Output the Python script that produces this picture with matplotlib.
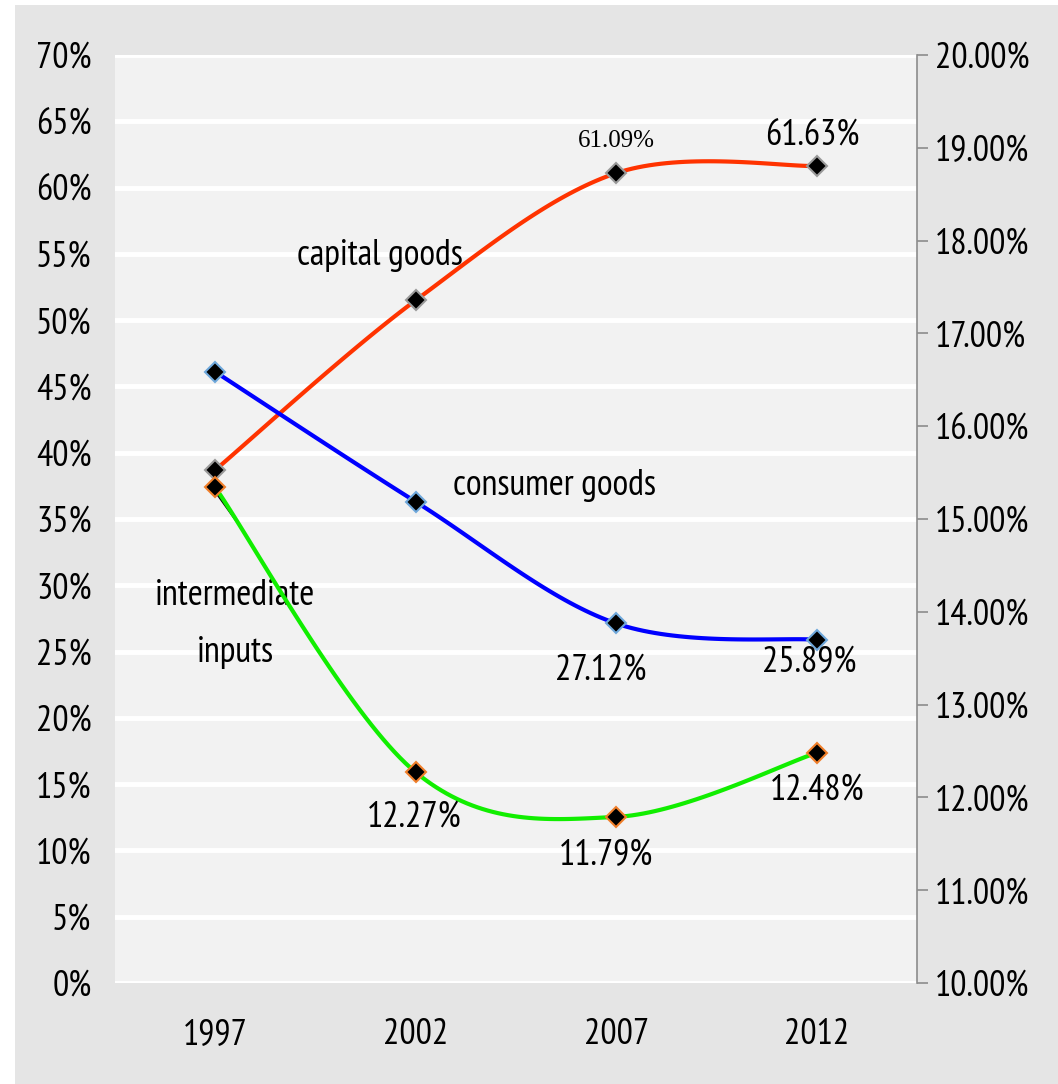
import numpy as np
import matplotlib.pyplot as plt
from matplotlib.patches import Rectangle

# --- Donnees ---
annees = ["1997", "2002", "2007", "2012"]
biens_capital = [38.7, 51.5, 61.09, 61.63]        # axe gauche (%)
biens_conso = [46.1, 36.3, 27.12, 25.89]          # axe gauche (%)
intrants_inter = [15.34, 12.27, 11.79, 12.48]     # axe droit (%)

SANS = ["PT Sans Narrow", "DejaVu Sans"]
SERIF = ["Liberation Serif", "DejaVu Serif"]
plt.rcParams["font.family"] = SANS
TAILLE = 26


def lisse(x, y, n=40):
    """Courbe lissee type Catmull-Rom passant par les points."""
    x = np.asarray(x, float)
    y = np.asarray(y, float)
    px = np.concatenate([[x[0]], x, [x[-1]]])
    py = np.concatenate([[y[0]], y, [y[-1]]])
    xs, ys = [], []
    t = np.linspace(0, 1, n)
    for i in range(1, len(px) - 2):
        p0, p1, p2, p3 = px[i - 1], px[i], px[i + 1], px[i + 2]
        q0, q1, q2, q3 = py[i - 1], py[i], py[i + 1], py[i + 2]
        c1x, c1y = p1 + (p2 - p0) / 6, q1 + (q2 - q0) / 6
        c2x, c2y = p2 - (p3 - p1) / 6, q2 - (q3 - q1) / 6
        b = [(1 - t) ** 3, 3 * (1 - t) ** 2 * t, 3 * (1 - t) * t ** 2, t ** 3]
        xs.append(b[0] * p1 + b[1] * c1x + b[2] * c2x + b[3] * p2)
        ys.append(b[0] * q1 + b[1] * c1y + b[2] * c2y + b[3] * q2)
    return np.concatenate(xs), np.concatenate(ys)


x = np.arange(len(annees))

fig = plt.figure(figsize=(10.58, 10.84), dpi=100, facecolor="white")
fig.patches.append(Rectangle((15 / 1058, 0), 1, 1 - 5 / 1084,
                             transform=fig.transFigure, facecolor="#e5e5e5",
                             edgecolor="none", zorder=-10))
ax = fig.add_axes([115 / 1058, 1 - 983 / 1084, 802 / 1058, 928 / 1084])
ax.set_facecolor("#f2f2f2")
ax2 = ax.twinx()

ax.set_xlim(-0.5, 3.5)
ax.set_ylim(0, 70)
ax2.set_ylim(10, 20)

# grille blanche
for v in range(0, 75, 5):
    ax.axhline(v, color="white", lw=3.5, zorder=0.5)

for s in ["top", "left", "bottom", "right"]:
    ax.spines[s].set_visible(False)
for s in ["top", "left", "bottom"]:
    ax2.spines[s].set_visible(False)
ax2.spines["right"].set_color("#8c8c8c")
ax2.spines["right"].set_linewidth(1.2)

ax.set_yticks(range(0, 75, 5))
ax.set_yticklabels([f"{v}%" for v in range(0, 75, 5)])
ax.tick_params(axis="y", length=0, pad=17, labelsize=TAILLE)
ax.set_xticks(x)
ax.set_xticklabels(annees)
ax.tick_params(axis="x", length=0, pad=25, labelsize=TAILLE)

ax2.set_yticks(np.arange(10, 20.5, 1))
ax2.set_yticklabels([f"{v:.2f}%" for v in np.arange(10, 20.5, 1)])
ax2.tick_params(axis="y", length=8, width=1.2, color="#8c8c8c",
                pad=5, labelsize=TAILLE)

# courbes
xs, ys = lisse(x, biens_capital)
ax.plot(xs, ys, color="#ff3300", lw=3, zorder=3)
xs, ys = lisse(x, biens_conso)
ax.plot(xs, ys, color="#0000ff", lw=3, zorder=3)
xs, ys = lisse(x, intrants_inter)
ax2.plot(xs, ys, color="#11ee00", lw=3, zorder=3)

ax.plot(x, biens_capital, "D", ms=10, mfc="black", mec="#999999", mew=1.5, zorder=4)
ax.plot(x, biens_conso, "D", ms=10, mfc="black", mec="#6fa8dc", mew=1.5, zorder=4)
ax2.plot(x, intrants_inter, "D", ms=10, mfc="black", mec="#f07f2a", mew=1.5, zorder=4)

# trait de rappel de l'etiquette
ax.plot([0.015, 0.105], [36.8, 34.9], color="black", lw=2, zorder=3.5)

# etiquettes
kw = dict(fontsize=TAILLE, ha="center", va="center", zorder=5)
ax.text(0.82, 54.9, "capital goods", **kw)
ax.text(1.69, 37.5, "consumer goods", **kw)
ax.text(0.1, 29.2, "intermediate", **kw)
ax.text(0.1, 24.9, "inputs", **kw)
ax.text(2.0, 63.5, f"{biens_capital[2]:.2f}%", fontsize=18,
        family=SERIF, ha="center", va="center", zorder=5)
ax.text(2.98, 63.9, f"{biens_capital[3]:.2f}%", **kw)
ax.text(1.92, 23.6, f"{biens_conso[2]:.2f}%", **kw)
ax.text(2.96, 24.2, f"{biens_conso[3]:.2f}%", **kw)
ax2.text(0.99, 11.79, f"{intrants_inter[1]:.2f}%", **kw)
ax2.text(1.95, 11.37, f"{intrants_inter[2]:.2f}%", **kw)
ax2.text(3.0, 12.08, f"{intrants_inter[3]:.2f}%", **kw)

fig.savefig("out.png", dpi=100, facecolor="white")
